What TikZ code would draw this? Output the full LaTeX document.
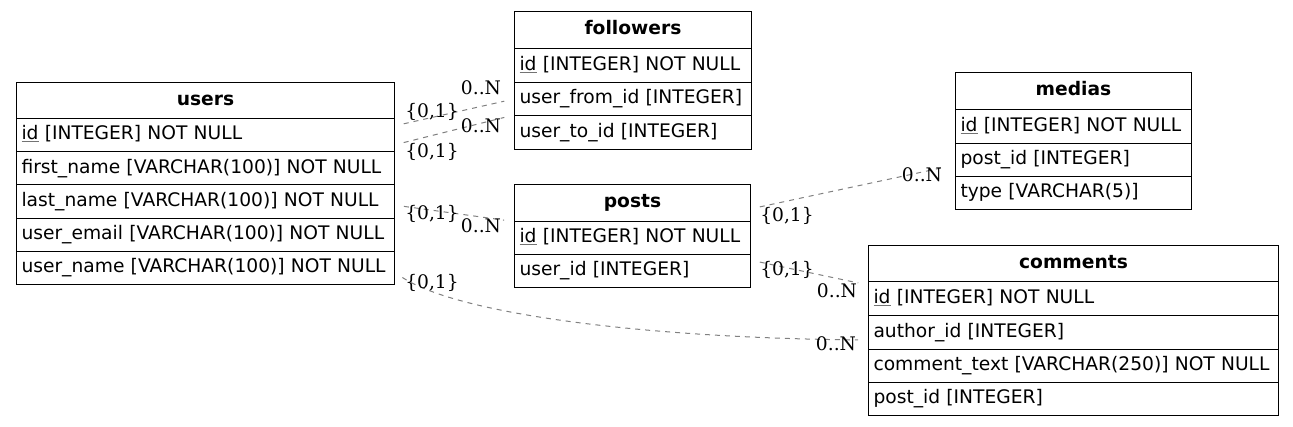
\documentclass[tikz,border=0pt]{standalone}
\usepackage{fontspec}
\newfontfamily\fldfont{DejaVu Sans}
\newfontfamily\lblfont{DejaVu Serif}
\newcommand{\pk}[1]{\leavevmode\rlap{\color{black!55}$\underline{\hbox{\phantom{#1}}}$}#1}
\tikzset{
  tbox/.style={draw=black, line width=1pt, anchor=north west, inner xsep=5pt, inner ysep=0pt,
    text height=14pt, text depth=4.5pt},
  hdr/.style={tbox, text width=#1, align=center, minimum height=37pt,
    font=\fldfont\bfseries\fontsize{18.67}{22}\selectfont},
  fld/.style={tbox, text width=#1, align=left,
    font=\fldfont\fontsize{18.67}{22}\selectfont},
  rel/.style={draw=black!50, line width=1pt, dash pattern=on 5pt off 5pt, shorten <=10pt, shorten >=10pt},
  lbl/.style={inner sep=0pt, text height=13pt, text depth=4pt, font=\lblfont\fontsize{18.67}{22}\selectfont}
}
\begin{document}
\begin{tikzpicture}[x=1pt,y=-1pt]
\useasboundingbox (0,0) rectangle (1293,426);
% users
\node[hdr=368pt, minimum height=36pt] (users) at (16,82) {users};
\node[fld=368pt, minimum height=33.2pt] (users-id) at (16,118) {\mbox{\pk{id} [INTEGER] NOT NULL}};
\node[fld=368pt, minimum height=33.2pt] (users-fn) at (16,151.2) {\mbox{first\_name [VARCHAR(100)] NOT NULL}};
\node[fld=368pt, minimum height=33.2pt] (users-ln) at (16,184.4) {\mbox{last\_name [VARCHAR(100)] NOT NULL}};
\node[fld=368pt, minimum height=33.2pt] (users-em) at (16,217.6) {\mbox{user\_email [VARCHAR(100)] NOT NULL}};
\node[fld=368pt, minimum height=33.2pt] (users-un) at (16,250.8) {\mbox{user\_name [VARCHAR(100)] NOT NULL}};
% followers
\node[hdr=227pt] (followers) at (514,11) {followers};
\node[fld=227pt, minimum height=34pt] (fol-id) at (514,48) {\mbox{\pk{id} [INTEGER] NOT NULL}};
\node[fld=227pt, minimum height=33pt] (fol-from) at (514,82) {\mbox{user\_from\_id [INTEGER]}};
\node[fld=227pt, minimum height=34pt] (fol-to) at (514,115) {\mbox{user\_to\_id [INTEGER]}};
% posts
\node[hdr=226pt] (posts) at (514,184) {posts};
\node[fld=226pt, minimum height=33pt] (posts-id) at (514,221) {\mbox{\pk{id} [INTEGER] NOT NULL}};
\node[fld=226pt, minimum height=33pt] (posts-uid) at (514,254) {\mbox{user\_id [INTEGER]}};
% medias
\node[hdr=226pt] (medias) at (955,72) {medias};
\node[fld=226pt, minimum height=34pt] (med-id) at (955,109) {\mbox{\pk{id} [INTEGER] NOT NULL}};
\node[fld=226pt, minimum height=33pt] (med-pid) at (955,143) {\mbox{post\_id [INTEGER]}};
\node[fld=226pt, minimum height=33pt] (med-type) at (955,176) {\mbox{type [VARCHAR(5)]}};
% comments
\node[hdr=400pt, minimum height=36pt] (comments) at (868,245) {comments};
\node[fld=400pt, minimum height=34pt] (com-id) at (868,281) {\mbox{\pk{id} [INTEGER] NOT NULL}};
\node[fld=400pt, minimum height=34pt] (com-aid) at (868,315) {\mbox{author\_id [INTEGER]}};
\node[fld=400pt, minimum height=33pt] (com-txt) at (868,349) {\mbox{comment\_text [VARCHAR(250)] NOT NULL}};
\node[fld=400pt, minimum height=33pt] (com-pid) at (868,382) {\mbox{post\_id [INTEGER]}};
% connector end points
\coordinate (r1a) at (394,126); \coordinate (r1b) at (514,99);
\coordinate (r2a) at (394,145); \coordinate (r2b) at (514,115);
\coordinate (r3a) at (394,205); \coordinate (r3b) at (514,221.5);
\coordinate (r4a) at (394,272); \coordinate (r4b) at (868,340);
\coordinate (r5a) at (750,209); \coordinate (r5b) at (955,165);
\coordinate (r6a) at (750,260); \coordinate (r6b) at (868,285);
\draw[rel] (r1a) -- (r1b);
\draw[rel] (r2a) -- (r2b);
\draw[rel] (r3a) -- (r3b);
\draw[rel] (r4a) .. controls (460,315) and (650,338) .. (r4b);
\draw[rel] (r5a) -- (r5b);
\draw[rel] (r6a) -- (r6b);
% labels
\node[lbl] (t1) at (432,113) {\{0,1\}};
\node[lbl] (h1) at (481,90) {0..N};
\node[lbl] (t2) at (432,153) {\{0,1\}};
\node[lbl] (h2) at (481,128) {0..N};
\node[lbl] (t3) at (432,215) {\{0,1\}};
\node[lbl] (h3) at (481,228) {0..N};
\node[lbl] (t4) at (432,284) {\{0,1\}};
\node[lbl] (h4) at (836,346) {0..N};
\node[lbl] (t5) at (787,217) {\{0,1\}};
\node[lbl] (h5) at (922,177) {0..N};
\node[lbl] (t6) at (787,271) {\{0,1\}};
\node[lbl] (h6) at (837,293) {0..N};
\end{tikzpicture}
\end{document}
